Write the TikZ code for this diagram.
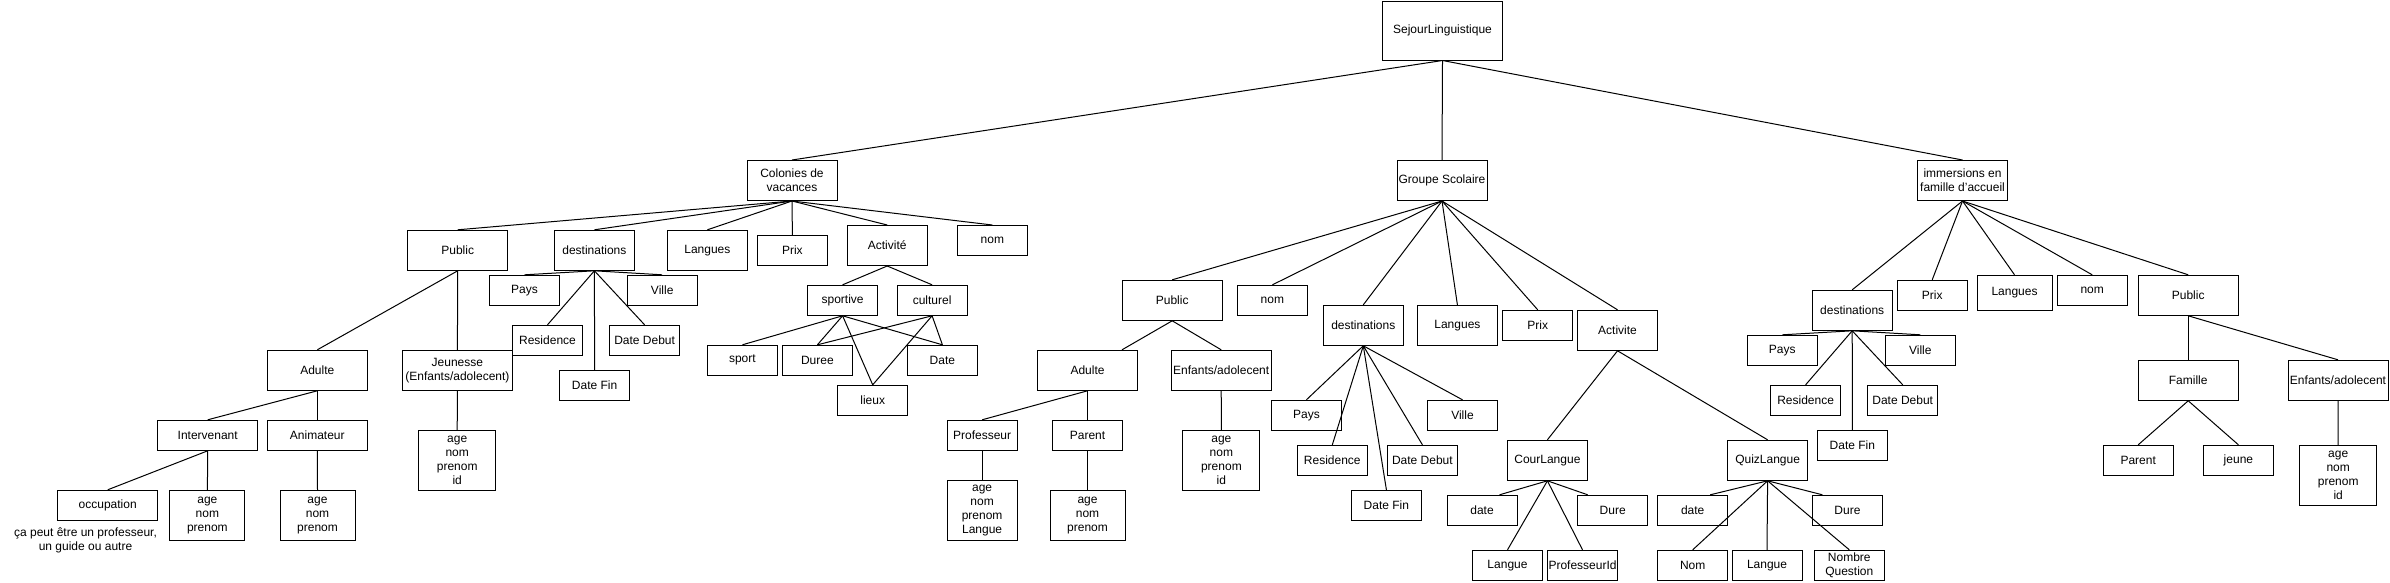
\documentclass[tikz,border=0pt]{standalone}
\usepackage{fontspec}
\setmainfont{Liberation Sans}
\usetikzlibrary{calc}
\begin{document}
\begin{tikzpicture}[x=1pt,y=-1pt,
  box/.style={draw=black, line width=1pt, fill=white, inner sep=0pt, align=center,
              font=\fontsize{12}{14}\selectfont, text=black},
  bA/.style={box, minimum width=100pt, minimum height=40pt},
  bB/.style={box, minimum width=80pt, minimum height=40pt},
  bC/.style={box, minimum width=70pt, minimum height=30pt},
  bD/.style={box, minimum width=75pt, minimum height=50pt},
  bE/.style={box, minimum width=77pt, minimum height=60pt},
  bF/.style={box, minimum width=90pt, minimum height=40pt},
  link/.style={draw=black, line width=1pt},
  note/.style={inner sep=0pt, align=center, font=\fontsize{12}{14}\selectfont, text=black}]
\useasboundingbox (0,0) rectangle (2390,582);
\fill[white] (0,0) rectangle (2390,582);

% root and level 1
\node[box, minimum width=120pt, minimum height=59pt] (root) at (1442.5,30.5) {SejourLinguistique};
\node[bF] (Col) at (792,180.5) {Colonies de\\vacances};
\node[bF] (Grp) at (1442,180.5) {Groupe Scolaire};
\node[bF] (Imm) at (1962.5,180.5) {immersions en\\famille d'accueil};

% Colonies de vacances
\node[bA] (PubC) at (457.7,250.3) {Public};
\node[bB] (destC) at (594.4,250.3) {destinations};
\node[bB] (LangC) at (707.4,250.3) {Langues};
\node[bC] (PrixC) at (792.4,250.5) {Prix};
\node[bB] (ActC) at (887.2,245.5) {Activité};
\node[bC] (nomC) at (992.4,240.5) {nom};

\node[bC] (PaysC) at (524.5,290.3) {Pays};
\node[bC] (VilleC) at (662.2,290.3) {Ville};
\node[bC] (ResC) at (547.5,340.3) {Residence};
\node[bC] (DDebC) at (644.6,340.3) {Date Debut};
\node[bC] (DFinC) at (594.6,385.3) {Date Fin};

\node[bA] (AdC) at (317.3,370.3) {Adulte};
\node[box, minimum width=110pt, minimum height=40pt] (JeuC) at (457.4,370.3) {Jeunesse\\(Enfants/adolecent)};
\node[bA, minimum height=30pt] (IntC) at (207.7,435.3) {Intervenant};
\node[bA, minimum height=30pt] (AnimC) at (317.3,435.3) {Animateur};
\node[bA, minimum height=30pt] (occC) at (107.7,505.3) {occupation};
\node[bD] (IntAttr) at (207.4,515.3) {age\\nom\\prenom};
\node[bD] (AnimAttr) at (317.5,515.3) {age\\nom\\prenom};
\node[bE] (JeuAttr) at (457.2,460.3) {age\\nom\\prenom\\id};
\node[note] (occNote) at (85.5,540.3) {ça peut être un professeur,\\un guide ou autre};

\node[bC] (sportive) at (842.6,300.3) {sportive};
\node[bC] (culturel) at (932.1,300.3) {culturel};
\node[bC] (sport) at (742.4,360.3) {sport};
\node[bC] (Duree) at (817.4,360.3) {Duree};
\node[bC] (DateC) at (942.4,360.3) {Date};
\node[bC] (lieux) at (872.7,400.3) {lieux};

% Groupe Scolaire
\node[bA] (PubG) at (1172.2,300.3) {Public};
\node[bC] (nomG) at (1272.4,300.3) {nom};
\node[bB] (destG) at (1363.3,325.3) {destinations};
\node[bB] (LangG) at (1457.4,325.3) {Langues};
\node[bC] (PrixG) at (1537.7,325.3) {Prix};
\node[bB] (ActG) at (1617.5,330.3) {Activite};

\node[bA] (AdG) at (1087.5,370.3) {Adulte};
\node[bA] (EnfG) at (1221.2,370.3) {Enfants/adolecent};
\node[bC] (ProfG) at (982.1,435.3) {Professeur};
\node[bC] (ParG) at (1087.5,435.3) {Parent};
\node[box, minimum width=70pt, minimum height=60pt] (ProfAttr) at (982.1,510.3) {age\\nom\\prenom\\Langue};
\node[bD] (ParAttr) at (1087.5,515.3) {age\\nom\\prenom};
\node[bE] (EnfAttr) at (1221.4,460.3) {age\\nom\\prenom\\id};

\node[bC] (PaysG) at (1306.4,415.3) {Pays};
\node[bC] (VilleG) at (1462.5,415.3) {Ville};
\node[bC] (ResG) at (1332.3,460.3) {Residence};
\node[bC] (DDebG) at (1422.4,460.3) {Date Debut};
\node[bC] (DFinG) at (1386.4,505.3) {Date Fin};

\node[bB] (CL) at (1547.4,460.3) {CourLangue};
\node[bB] (QL) at (1767.6,460.3) {QuizLangue};
\node[bC] (dateCL) at (1482,510.3) {date};
\node[bC] (DureCL) at (1612.7,510.3) {Dure};
\node[bC] (LangCL) at (1507.5,565.3) {Langue};
\node[bC] (ProfId) at (1582.5,565.3) {ProfesseurId};
\node[bC] (dateQ) at (1692.7,510.3) {date};
\node[bC] (DureQ) at (1847.4,510.3) {Dure};
\node[bC] (NomQ) at (1692.7,565.3) {Nom};
\node[bC] (LangQ) at (1767,565.3) {Langue};
\node[bC] (NbQ) at (1849.3,565.3) {Nombre\\Question};

% immersions en famille d'accueil
\node[bB] (destI) at (1852.2,310.3) {destinations};
\node[bC] (PaysI) at (1782.3,350.3) {Pays};
\node[bC] (VilleI) at (1920.3,350.3) {Ville};
\node[bC] (ResI) at (1805.6,400.3) {Residence};
\node[bC] (DDebI) at (1902.7,400.3) {Date Debut};
\node[bC] (DFinI) at (1852.4,445.3) {Date Fin};
\node[bC] (PrixI) at (1932.2,295.3) {Prix};
\node[box, minimum width=75pt, minimum height=35pt] (LangI) at (2014.5,292.8) {Langues};
\node[bC] (nomI) at (2092.2,290.3) {nom};
\node[bA] (PubI) at (2188.2,295.3) {Public};
\node[bA] (Fam) at (2188.2,380.3) {Famille};
\node[bA] (EnfI) at (2338,380.3) {Enfants/adolecent};
\node[bC] (ParI) at (2138.2,460.3) {Parent};
\node[bC] (jeune) at (2238.4,460.3) {jeune};
\node[bE] (EnfIAttr) at (2338.2,475.3) {age\\nom\\prenom\\id};

% connectors
\foreach \a/\b in {root/Col, root/Grp, root/Imm,
  Col/PubC, Col/destC, Col/LangC, Col/PrixC, Col/ActC, Col/nomC,
  destC/PaysC, destC/VilleC, destC/ResC, destC/DDebC, destC/DFinC,
  PubC/AdC, PubC/JeuC, AdC/IntC, AdC/AnimC, IntC/occC, IntC/IntAttr,
  AnimC/AnimAttr, JeuC/JeuAttr,
  ActC/sportive, ActC/culturel,
  sportive/sport, sportive/Duree, sportive/lieux, sportive/DateC,
  culturel/Duree, culturel/lieux, culturel/DateC,
  Grp/PubG, Grp/nomG, Grp/destG, Grp/LangG, Grp/PrixG, Grp/ActG,
  PubG/EnfG, AdG/ProfG, AdG/ParG, ProfG/ProfAttr, ParG/ParAttr, EnfG/EnfAttr,
  destG/PaysG, destG/VilleG, destG/ResG, destG/DDebG, destG/DFinG,
  ActG/CL, ActG/QL, CL/LangCL, CL/ProfId, QL/NomQ, QL/LangQ, QL/NbQ,
  Imm/destI, Imm/PrixI, Imm/LangI, Imm/nomI, Imm/PubI,
  destI/PaysI, destI/VilleI, destI/ResI, destI/DDebI, destI/DFinI,
  PubI/Fam, PubI/EnfI, Fam/ParI, Fam/jeune, EnfI/EnfIAttr}
  {\draw[link] (\a.south) -- (\b.north);}
\draw[link] (PubG.south) -- ($(AdG.north)+(34.5,0)$);
\draw[link] (CL.south) -- ($(dateCL.north)+(17.5,0)$);
\draw[link] (CL.south) -- ($(DureCL.north)+(-25,0)$);
\draw[link] (QL.south) -- ($(dateQ.north)+(17.5,0)$);
\draw[link] (QL.south) -- ($(DureQ.north)+(-25,0)$);
\end{tikzpicture}
\end{document}
